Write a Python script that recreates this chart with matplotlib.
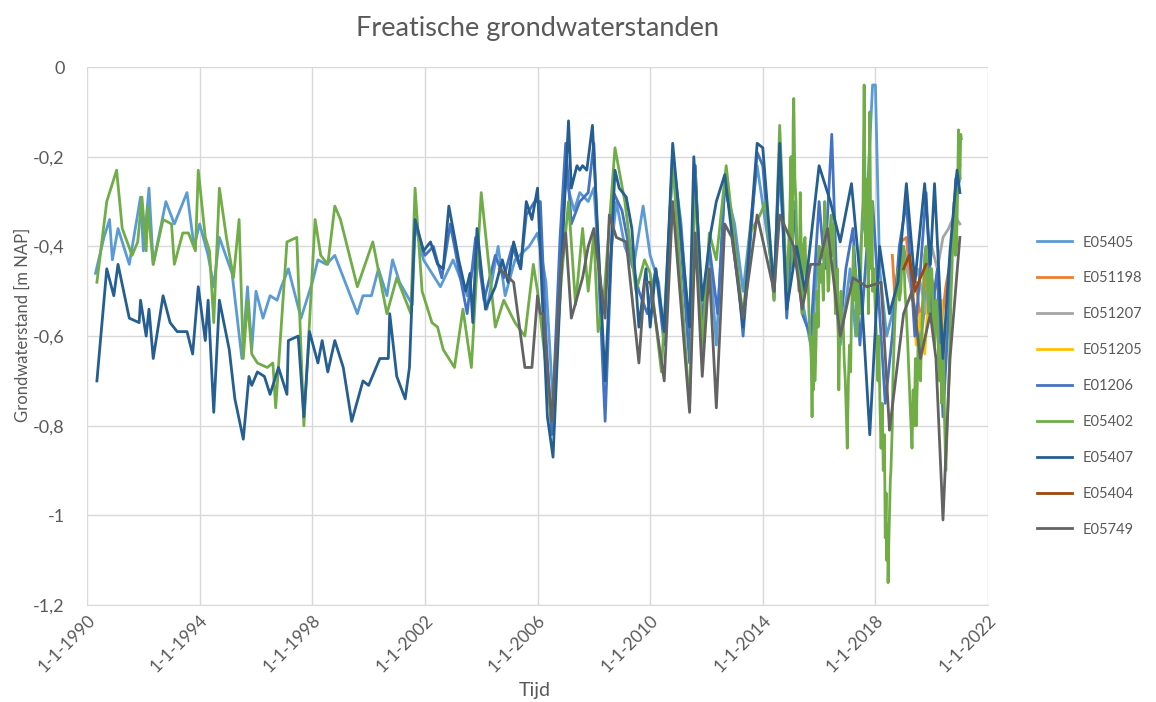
import matplotlib.pyplot as plt

plt.rcParams['font.family'] = ['Lato', 'DejaVu Sans']

# meetreeksen: tijd (decimaal jaar) en stand [m NAP]
t_e05405 = [1990.3, 1990.6, 1990.8, 1990.9, 1991.1, 1991.5, 1991.9, 1992.0, 1992.2, 1992.35,
            1992.8, 1993.1, 1993.55, 1993.8, 1994.0, 1994.3, 1994.5, 1994.7, 1995.15, 1995.5,
            1995.7, 1995.85, 1996.0, 1996.25, 1996.5, 1996.75, 1996.9, 1997.15, 1997.6, 1998.0,
            1998.2, 1998.5, 1998.8, 1999.6, 1999.8, 2000.1, 2000.35, 2000.65, 2000.85, 2001.1,
            2001.55, 2001.65, 2001.95, 2002.55, 2003.0, 2003.5, 2003.85, 2004.2, 2004.6, 2004.85,
            2005.2, 2005.7, 2006.0, 2006.3, 2006.55, 2006.8, 2007.0, 2007.3, 2007.5, 2007.8,
            2008.0, 2008.3, 2008.6, 2008.8, 2009.1, 2009.4, 2009.75, 2010.0, 2010.3, 2010.5,
            2010.8, 2011.1, 2011.4, 2011.6, 2011.85, 2012.1, 2012.35, 2012.65, 2013.0, 2013.3,
            2013.8, 2014.1, 2014.4, 2014.6, 2014.85, 2015.1, 2015.4, 2015.7, 2016.0, 2016.3,
            2016.5, 2016.75, 2016.9, 2017.1, 2017.3, 2017.5, 2017.7, 2017.9, 2018.0, 2018.15,
            2018.4, 2018.6, 2018.8, 2019.0, 2019.3, 2019.6, 2019.9, 2020.1, 2020.4, 2020.6,
            2020.8, 2021.0]
v_e05405 = [-0.46, -0.38, -0.34, -0.43, -0.36, -0.44, -0.29, -0.41, -0.27, -0.44,
            -0.30, -0.35, -0.28, -0.40, -0.35, -0.42, -0.49, -0.38, -0.46, -0.65,
            -0.49, -0.63, -0.50, -0.56, -0.51, -0.52, -0.49, -0.45, -0.56, -0.48,
            -0.43, -0.44, -0.42, -0.55, -0.51, -0.51, -0.45, -0.51, -0.43, -0.48,
            -0.53, -0.35, -0.43, -0.49, -0.43, -0.51, -0.40, -0.54, -0.40, -0.51,
            -0.43, -0.40, -0.37, -0.48, -0.75, -0.45, -0.25, -0.32, -0.28, -0.30,
            -0.27, -0.55, -0.42, -0.30, -0.40, -0.45, -0.31, -0.42, -0.48, -0.60,
            -0.20, -0.35, -0.62, -0.22, -0.60, -0.40, -0.62, -0.26, -0.35, -0.50,
            -0.22, -0.35, -0.48, -0.22, -0.50, -0.30, -0.52, -0.62, -0.40, -0.45,
            -0.38, -0.62, -0.55, -0.45, -0.60, -0.38, -0.30, -0.04, -0.04, -0.45,
            -0.60, -0.55, -0.45, -0.40, -0.50, -0.62, -0.45, -0.50, -0.75, -0.50,
            -0.30, -0.25]

t_e051198 = [2018.6, 2018.7, 2018.9, 2019.1, 2019.3, 2019.45, 2019.6, 2019.85, 2020.1, 2020.2,
             2020.3, 2020.5, 2020.75]
v_e051198 = [-0.42, -0.52, -0.39, -0.38, -0.52, -0.48, -0.57, -0.43, -0.50, -0.46,
             -0.60, -0.49, -0.40]

t_e051207 = [2019.0, 2019.3, 2019.5, 2019.8, 2020.0, 2020.2, 2020.4, 2020.6, 2020.8, 2021.0]
v_e051207 = [-0.42, -0.50, -0.45, -0.55, -0.40, -0.45, -0.38, -0.36, -0.33, -0.35]

t_e051205 = [2019.3, 2019.45, 2019.6, 2019.75, 2019.9, 2020.1, 2020.25, 2020.35, 2020.45, 2020.55,
             2020.7]
v_e051205 = [-0.48, -0.62, -0.55, -0.64, -0.50, -0.55, -0.60, -0.52, -0.68, -0.58,
             -0.45]

t_e01206 = [2001.7, 2002.0, 2002.3, 2002.6, 2002.9, 2003.2, 2003.5, 2003.8, 2004.1, 2004.5,
            2004.8, 2005.1, 2005.4, 2005.6, 2005.9, 2006.1, 2006.3, 2006.5, 2006.8, 2007.0,
            2007.2, 2007.5, 2007.8, 2008.0, 2008.2, 2008.4, 2008.7, 2009.0, 2009.3, 2009.6,
            2009.9, 2010.2, 2010.5, 2010.8, 2011.1, 2011.4, 2011.6, 2011.85, 2012.1, 2012.4,
            2012.65, 2013.0, 2013.3, 2013.8, 2014.0, 2014.4, 2014.6, 2014.85, 2015.1, 2015.4,
            2015.7, 2016.0, 2016.2, 2016.45, 2016.7, 2016.95, 2017.2, 2017.45, 2017.7, 2017.9,
            2018.1, 2018.35, 2018.6, 2018.85, 2019.1, 2019.4, 2019.6, 2019.8, 2020.0, 2020.2,
            2020.4, 2020.6, 2020.85, 2021.0]
v_e01206 = [-0.36, -0.42, -0.40, -0.47, -0.35, -0.45, -0.55, -0.38, -0.52, -0.42,
            -0.47, -0.40, -0.45, -0.33, -0.30, -0.30, -0.60, -0.82, -0.38, -0.17,
            -0.35, -0.30, -0.28, -0.17, -0.50, -0.79, -0.28, -0.32, -0.42, -0.50,
            -0.55, -0.45, -0.62, -0.19, -0.40, -0.66, -0.22, -0.58, -0.40, -0.55,
            -0.26, -0.38, -0.60, -0.19, -0.22, -0.52, -0.19, -0.56, -0.32, -0.55,
            -0.60, -0.30, -0.45, -0.15, -0.62, -0.45, -0.36, -0.62, -0.40, -0.30,
            -0.50, -0.75, -0.60, -0.40, -0.30, -0.60, -0.45, -0.28, -0.55, -0.45,
            -0.78, -0.55, -0.25, -0.22]

t_e05402 = [1990.35, 1990.7, 1991.05, 1991.25, 1991.6, 1991.8, 1991.95, 1992.1, 1992.15, 1992.35,
            1992.7, 1993.0, 1993.1, 1993.4, 1993.6, 1993.85, 1993.95, 1994.2, 1994.35, 1994.5,
            1994.7, 1994.95, 1995.2, 1995.4, 1995.55, 1995.7, 1995.85, 1996.05, 1996.4, 1996.6,
            1996.7, 1997.1, 1997.45, 1997.7, 1998.1, 1998.3, 1998.55, 1998.8, 1999.0, 1999.6,
            2000.15, 2000.65, 2001.0, 2001.5, 2001.65, 2001.9, 2002.25, 2002.45, 2002.65, 2003.05,
            2003.35, 2003.65, 2004.0, 2004.5, 2004.8, 2005.2, 2005.55, 2005.85, 2006.0, 2006.25,
            2006.5, 2006.85, 2007.1, 2007.35, 2007.6, 2007.8, 2008.0, 2008.15, 2008.35, 2008.75,
            2009.1, 2009.5, 2009.8, 2010.0, 2010.4, 2010.8, 2011.4, 2011.6, 2011.85, 2012.1,
            2012.35, 2012.7, 2013.3, 2013.55, 2013.9, 2014.1, 2014.4, 2014.6, 2014.85, 2014.95,
            2015.0, 2015.05, 2015.08, 2015.1, 2015.14, 2015.18, 2015.22, 2015.25, 2015.29, 2015.33,
            2015.37, 2015.4, 2015.45, 2015.5, 2015.55, 2015.6, 2015.64, 2015.68, 2015.72, 2015.75,
            2015.78, 2015.8, 2015.83, 2015.85, 2015.89, 2015.93, 2015.97, 2016.0, 2016.05, 2016.1,
            2016.15, 2016.2, 2016.24, 2016.28, 2016.32, 2016.35, 2016.39, 2016.43, 2016.47, 2016.5,
            2016.54, 2016.58, 2016.62, 2016.65, 2016.68, 2016.7, 2016.74, 2016.78, 2016.82, 2016.85,
            2016.89, 2016.93, 2016.97, 2017.0, 2017.04, 2017.08, 2017.12, 2017.15, 2017.19, 2017.22,
            2017.26, 2017.3, 2017.34, 2017.38, 2017.42, 2017.45, 2017.49, 2017.52, 2017.56, 2017.6,
            2017.62, 2017.65, 2017.68, 2017.7, 2017.73, 2017.75, 2017.78, 2017.8, 2017.83, 2017.85,
            2017.88, 2017.9, 2017.95, 2018.0, 2018.05, 2018.09, 2018.12, 2018.16, 2018.2, 2018.24,
            2018.28, 2018.32, 2018.35, 2018.38, 2018.4, 2018.43, 2018.45, 2018.48, 2018.5, 2018.53,
            2018.55, 2018.6, 2018.62, 2018.66, 2018.7, 2018.75, 2018.8, 2018.85, 2018.9, 2018.95,
            2019.0, 2019.05, 2019.1, 2019.15, 2019.2, 2019.25, 2019.3, 2019.34, 2019.38, 2019.42,
            2019.45, 2019.49, 2019.52, 2019.56, 2019.6, 2019.65, 2019.7, 2019.75, 2019.8, 2019.85,
            2019.9, 2019.95, 2020.0, 2020.05, 2020.1, 2020.15, 2020.2, 2020.24, 2020.28, 2020.32,
            2020.35, 2020.39, 2020.42, 2020.46, 2020.5, 2020.54, 2020.58, 2020.62, 2020.65, 2020.69,
            2020.72, 2020.76, 2020.8, 2020.84, 2020.88, 2020.92, 2020.95, 2020.98, 2021.0, 2021.03,
            2021.05]
v_e05402 = [-0.48, -0.30, -0.23, -0.36, -0.42, -0.39, -0.29, -0.41, -0.31, -0.44,
            -0.34, -0.35, -0.44, -0.37, -0.37, -0.41, -0.23, -0.38, -0.41, -0.57,
            -0.27, -0.38, -0.47, -0.34, -0.65, -0.52, -0.64, -0.66, -0.67, -0.66,
            -0.76, -0.39, -0.38, -0.80, -0.34, -0.42, -0.44, -0.31, -0.34, -0.49,
            -0.39, -0.55, -0.47, -0.55, -0.27, -0.50, -0.57, -0.58, -0.63, -0.67,
            -0.54, -0.67, -0.28, -0.58, -0.52, -0.57, -0.60, -0.44, -0.50, -0.64,
            -0.79, -0.47, -0.30, -0.53, -0.36, -0.50, -0.37, -0.59, -0.52, -0.18,
            -0.30, -0.50, -0.43, -0.46, -0.68, -0.21, -0.76, -0.24, -0.63, -0.37,
            -0.43, -0.22, -0.56, -0.37, -0.33, -0.30, -0.52, -0.13, -0.50, -0.35,
            -0.20, -0.45, -0.12, -0.07, -0.25, -0.30, -0.45, -0.40, -0.50, -0.28,
            -0.42, -0.55, -0.40, -0.38, -0.50, -0.45, -0.55, -0.60, -0.65, -0.78,
            -0.60, -0.72, -0.55, -0.70, -0.62, -0.50, -0.58, -0.40, -0.48, -0.44,
            -0.52, -0.30, -0.38, -0.42, -0.50, -0.48, -0.36, -0.33, -0.42, -0.35,
            -0.45, -0.55, -0.50, -0.45, -0.62, -0.72, -0.58, -0.50, -0.60, -0.56,
            -0.65, -0.70, -0.78, -0.85, -0.70, -0.62, -0.68, -0.55, -0.48, -0.40,
            -0.52, -0.45, -0.60, -0.55, -0.48, -0.55, -0.42, -0.35, -0.30, -0.04,
            -0.20, -0.40, -0.25, -0.30, -0.45, -0.55, -0.20, -0.10, -0.35, -0.45,
            -0.30, -0.50, -0.45, -0.55, -0.62, -0.70, -0.60, -0.75, -0.85, -0.75,
            -0.90, -0.82, -1.05, -0.95, -1.10, -1.02, -1.15, -1.05, -1.00, -0.92,
            -0.90, -0.80, -0.70, -0.62, -0.55, -0.50, -0.45, -0.52, -0.50, -0.42,
            -0.40, -0.50, -0.55, -0.62, -0.70, -0.78, -0.85, -0.72, -0.80, -0.65,
            -0.80, -0.70, -0.60, -0.68, -0.70, -0.58, -0.50, -0.42, -0.40, -0.48,
            -0.55, -0.45, -0.45, -0.55, -0.62, -0.52, -0.55, -0.65, -0.70, -0.62,
            -0.75, -0.68, -0.65, -0.80, -0.90, -0.82, -0.75, -0.68, -0.60, -0.50,
            -0.45, -0.35, -0.30, -0.42, -0.40, -0.28, -0.14, -0.22, -0.25, -0.15,
            -0.16]

t_e05407 = [1990.35, 1990.7, 1990.95, 1991.1, 1991.5, 1991.85, 1991.9, 1992.1, 1992.2, 1992.35,
            1992.7, 1992.95, 1993.2, 1993.55, 1993.75, 1993.95, 1994.2, 1994.3, 1994.5, 1994.7,
            1995.05, 1995.25, 1995.55, 1995.75, 1995.85, 1996.05, 1996.3, 1996.5, 1996.8, 1997.1,
            1997.15, 1997.5, 1997.7, 1997.9, 1998.2, 1998.35, 1998.55, 1998.8, 1999.1, 1999.4,
            1999.8, 2000.0, 2000.4, 2000.7, 2000.75, 2001.0, 2001.3, 2001.45, 2001.65, 2001.95,
            2002.2, 2002.45, 2002.65, 2002.85, 2003.2, 2003.45, 2003.6, 2003.7, 2003.85, 2004.15,
            2004.5, 2004.75, 2004.95, 2005.15, 2005.4, 2005.6, 2005.8, 2006.0, 2006.35, 2006.55,
            2006.85, 2007.1, 2007.2, 2007.4, 2007.5, 2007.6, 2007.75, 2007.95, 2008.4, 2008.75,
            2008.9, 2009.15, 2009.35, 2009.6, 2009.85, 2010.0, 2010.2, 2010.5, 2010.8, 2011.4,
            2011.55, 2011.85, 2012.15, 2012.35, 2012.65, 2013.3, 2013.8, 2014.0, 2014.4, 2014.6,
            2014.85, 2015.2, 2015.5, 2016.0, 2016.4, 2016.75, 2017.15, 2017.5, 2017.8, 2018.15,
            2018.5, 2018.8, 2019.1, 2019.4, 2019.75, 2019.95, 2020.1, 2020.4, 2020.65, 2020.9,
            2021.0]
v_e05407 = [-0.70, -0.45, -0.51, -0.44, -0.56, -0.57, -0.52, -0.60, -0.54, -0.65,
            -0.51, -0.57, -0.59, -0.59, -0.64, -0.49, -0.61, -0.52, -0.77, -0.52,
            -0.63, -0.74, -0.83, -0.69, -0.71, -0.68, -0.69, -0.73, -0.67, -0.73,
            -0.61, -0.60, -0.78, -0.59, -0.66, -0.61, -0.68, -0.61, -0.67, -0.79,
            -0.70, -0.71, -0.65, -0.65, -0.55, -0.69, -0.74, -0.67, -0.34, -0.41,
            -0.39, -0.44, -0.45, -0.31, -0.43, -0.50, -0.46, -0.57, -0.36, -0.54,
            -0.49, -0.43, -0.48, -0.39, -0.45, -0.30, -0.34, -0.27, -0.78, -0.87,
            -0.44, -0.12, -0.27, -0.22, -0.23, -0.22, -0.23, -0.13, -0.70, -0.23,
            -0.27, -0.29, -0.36, -0.58, -0.45, -0.58, -0.45, -0.59, -0.17, -0.58,
            -0.20, -0.52, -0.37, -0.30, -0.24, -0.58, -0.17, -0.18, -0.50, -0.17,
            -0.54, -0.40, -0.50, -0.22, -0.30, -0.39, -0.26, -0.50, -0.82, -0.40,
            -0.55, -0.48, -0.26, -0.48, -0.26, -0.44, -0.26, -0.65, -0.41, -0.23,
            -0.28]

t_e05404 = [2019.0, 2019.2, 2019.4, 2019.6, 2019.8]
v_e05404 = [-0.45, -0.42, -0.50, -0.47, -0.44]

t_e05749 = [2004.65, 2005.15, 2005.55, 2005.8, 2006.0, 2006.1, 2006.2, 2006.5, 2006.85, 2007.0,
            2007.2, 2007.6, 2007.8, 2008.0, 2008.4, 2008.55, 2008.8, 2009.15, 2009.6, 2009.8,
            2010.0, 2010.5, 2010.8, 2011.4, 2011.6, 2011.85, 2012.1, 2012.35, 2012.65, 2012.9,
            2013.3, 2013.8, 2014.4, 2014.6, 2015.1, 2015.4, 2015.7, 2016.0, 2016.3, 2016.75,
            2017.2, 2017.7, 2018.2, 2018.5, 2019.0, 2019.3, 2019.6, 2019.95, 2020.15, 2020.4,
            2020.65, 2021.0]
v_e05749 = [-0.45, -0.48, -0.67, -0.67, -0.51, -0.55, -0.55, -0.79, -0.44, -0.37,
            -0.56, -0.47, -0.40, -0.36, -0.56, -0.33, -0.38, -0.39, -0.66, -0.48,
            -0.48, -0.70, -0.30, -0.77, -0.37, -0.69, -0.45, -0.76, -0.35, -0.38,
            -0.56, -0.33, -0.50, -0.33, -0.40, -0.54, -0.44, -0.44, -0.36, -0.60,
            -0.47, -0.49, -0.48, -0.81, -0.55, -0.50, -0.65, -0.55, -0.65, -1.01,
            -0.65, -0.38]

series = [
    ('E05405', t_e05405, v_e05405, '#5B9BD5'),
    ('E051198', t_e051198, v_e051198, '#ED7D31'),
    ('E051207', t_e051207, v_e051207, '#A5A5A5'),
    ('E051205', t_e051205, v_e051205, '#FFC000'),
    ('E01206', t_e01206, v_e01206, '#4472C4'),
    ('E05402', t_e05402, v_e05402, '#70AD47'),
    ('E05407', t_e05407, v_e05407, '#255E91'),
    ('E05404', t_e05404, v_e05404, '#9E480E'),
    ('E05749', t_e05749, v_e05749, '#636363'),
]

x_ticks = [1990, 1994, 1998, 2002, 2006, 2010, 2014, 2018, 2022]
x_labels = ['1-1-' + str(j) for j in x_ticks]
y_ticks = [0, -0.2, -0.4, -0.6, -0.8, -1.0, -1.2]
y_labels = ['0', '-0,2', '-0,4', '-0,6', '-0,8', '-1', '-1,2']

txt = '#595959'
grid = '#D9D9D9'

fig = plt.figure(figsize=(11.56, 7.02), dpi=100)
ax = fig.add_axes([0.0753, 0.138, 0.7794, 0.7665])

for name, t, v, c in series:
    ax.plot(t, v, color=c, lw=2.0, label=name, solid_joinstyle='round')

ax.set_xlim(1990, 2022)
ax.set_ylim(-1.2, 0)
ax.set_xticks(x_ticks)
ax.set_xticklabels(x_labels, rotation=45, ha='right', rotation_mode='anchor')
ax.set_yticks(y_ticks)
ax.set_yticklabels(y_labels)
ax.tick_params(length=0, colors=txt, labelsize=13)
ax.tick_params(axis='y', pad=16)
ax.tick_params(axis='x', pad=5, labelsize=12.5)
ax.grid(True, color=grid, lw=1)
ax.set_axisbelow(True)
for s in ['top', 'right', 'left']:
    ax.spines[s].set_visible(False)
ax.spines['bottom'].set_color(grid)

ax.set_title('Freatische grondwaterstanden', color=txt, fontsize=19.5, pad=22)
fig.text(0.4628, 0.004, 'Tijd', color=txt, fontsize=14, ha='center', va='bottom')
ax.set_ylabel('Grondwaterstand [m NAP]', color=txt, fontsize=12)
ax.yaxis.set_label_coords(-0.062, 0.52)

fig.legend(loc='center left', bbox_to_anchor=(0.897, 0.45), frameon=False,
           fontsize=10.5, labelspacing=1.5, handlelength=2.4, handletextpad=0.7,
           borderpad=0, borderaxespad=0, labelcolor=txt)

fig.savefig('out.png', dpi=100)
